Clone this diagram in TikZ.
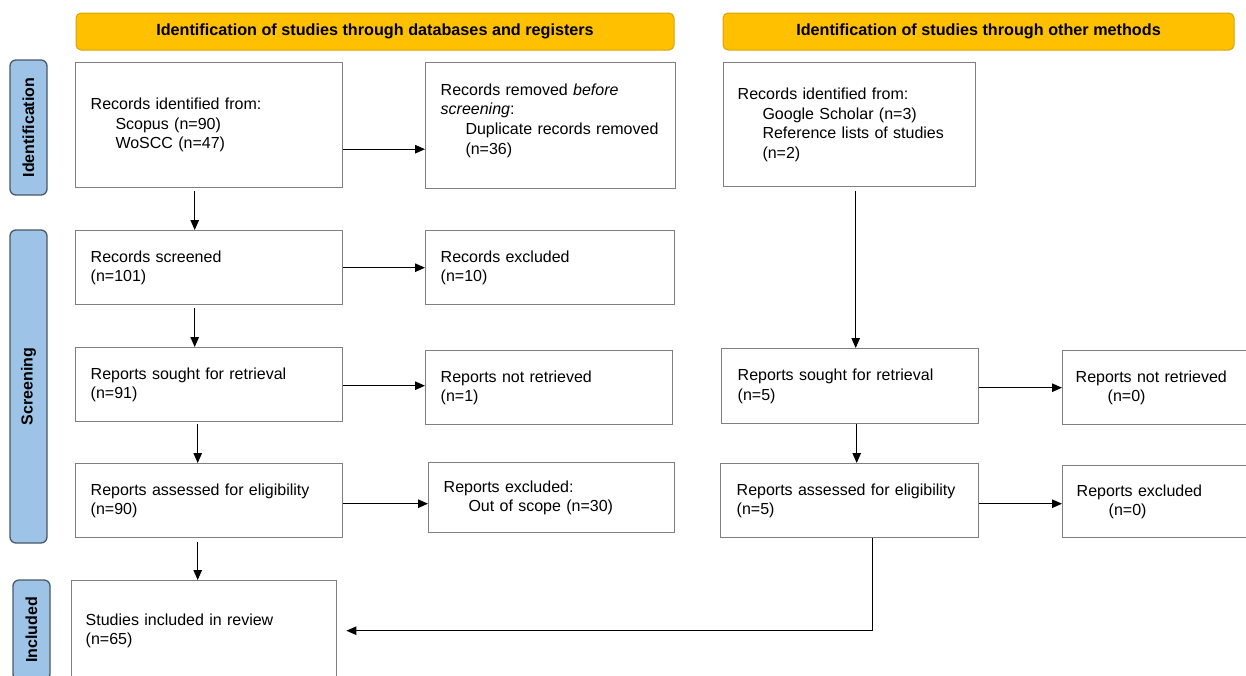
\documentclass[tikz,border=0pt]{standalone}
\usepackage{fontspec}
\setmainfont{Liberation Sans}
\usetikzlibrary{arrows.meta, positioning, calc}

\definecolor{hdrfill}{HTML}{FFC000}
\definecolor{hdrline}{HTML}{D9A400}
\definecolor{sidefill}{HTML}{9DC3E6}
\definecolor{sideline}{HTML}{4A5868}
\definecolor{boxline}{HTML}{7F7F7F}
\newcommand{\ind}{\hspace*{1.55em}}

\begin{document}
\begin{tikzpicture}[x=1pt, y=-1pt, >={Triangle[length=10pt,width=8.5pt]},
    font=\fontsize{16}{19.6}\selectfont]
    \tikzset{
        hdr/.style={draw=hdrline, fill=hdrfill, line width=1pt, rounded corners=5pt,
            minimum height=37pt, inner sep=0pt, font=\fontsize{16.2}{18}\selectfont\bfseries},
        side/.style={draw=sideline, fill=sidefill, line width=1.3pt, rounded corners=6pt,
            rotate=90, minimum height=37pt, inner sep=0pt,
            font=\fontsize{16}{18}\selectfont\bfseries},
        box/.style={draw=boxline, line width=1.4pt, align=left, anchor=north west,
            inner xsep=15pt, inner ysep=0pt},
        arr/.style={->, line width=1.1pt},
    }
    \clip (0,0) rectangle (1246,675);

    % headers
    \node[hdr, minimum width=598pt] (hdrdb) at (375,31.5)
        {Identification of studies through databases and registers};
    \node[hdr, minimum width=511pt] (hdrother) at (978.5,31.5)
        {Identification of studies through other methods};

    % phase labels
    \node[side, minimum width=135pt] (phid) at (28.5,127.5) {Identification};
    \node[side, minimum width=313pt] (phscr) at (28.5,386.5) {Screening};
    \node[side, minimum width=100pt] (phinc) at (31.5,630) {Included};

    % databases and registers
    \node[box, text width=237pt, minimum height=125pt] (dbid) at (75,62)
        {Records identified from:\\ \ind Scopus (n=90)\\ \ind WoSCC (n=47)};
    \node[box, text width=220pt, minimum height=126pt] (dbrem) at (425,62)
        {Records removed \textit{before}\\ \textit{screening}:\\
         \ind Duplicate records removed\\ \ind (n=36)\\[-6pt] \mbox{}};
    \node[box, text width=237pt, minimum height=74pt] (dbscr) at (75,230)
        {Records screened\\ (n=101)};
    \node[box, text width=219pt, minimum height=74pt] (dbexc) at (425,230)
        {Records excluded\\ (n=10)};
    \node[box, text width=237pt, minimum height=74pt] (dbsought) at (75,347)
        {Reports sought for retrieval\\ (n=91)};
    \node[box, text width=217pt, minimum height=74pt] (dbnotret) at (425,350)
        {Reports not retrieved\\ (n=1)};
    \node[box, text width=237pt, minimum height=74pt] (dbelig) at (75,463)
        {Reports assessed for eligibility\\ (n=90)};
    \node[box, text width=216pt, minimum height=70pt] (dbrepexc) at (428,462)
        {Reports excluded:\\ \ind Out of scope (n=30)};
    \node[box, text width=237pt, minimum height=100pt, inner xsep=14pt] (incl) at (71,580)
        {Studies included in review\\ (n=65)};

    % other methods
    \node[box, text width=224pt, minimum height=124pt, inner xsep=14pt] (othid) at (723,62)
        {Records identified from:\\ \ind Google Scholar (n=3)\\
         \ind Reference lists of studies\\ \ind (n=2)};
    \node[box, text width=225pt, minimum height=75pt, inner xsep=16pt] (othsought) at (721,348)
        {Reports sought for retrieval\\ (n=5)};
    \node[box, text width=185pt, minimum height=74pt, inner xsep=13pt] (othnotret) at (1062,350)
        {Reports not retrieved\\ \hspace*{2em}(n=0)};
    \node[box, text width=226pt, minimum height=74pt, inner xsep=16pt] (othelig) at (720,463)
        {Reports assessed for eligibility\\ (n=5)};
    \node[box, text width=185pt, minimum height=72pt, inner xsep=14pt] (othrepexc) at (1062,465)
        {Reports excluded\\ \hspace*{2em}(n=0)};

    % horizontal arrows
    \draw[arr] ([yshift=-24pt]dbid.east) -- ([yshift=-24pt]dbid.east -| dbrem.west);
    \draw[arr] (dbscr.east) -- (dbscr.east -| dbexc.west);
    \draw[arr] ([yshift=-1pt]dbsought.east) -- ([yshift=-1pt]dbsought.east -| dbnotret.west);
    \draw[arr] ([yshift=-3pt]dbelig.east) -- ([yshift=-3pt]dbelig.east -| dbrepexc.west);
    \draw[arr] ([yshift=-1.5pt]othsought.east) -- ([yshift=-1.5pt]othsought.east -| othnotret.west);
    \draw[arr] ([yshift=-3pt]othelig.east) -- ([yshift=-3pt]othelig.east -| othrepexc.west);

    % vertical arrows
    \draw[arr, shorten <=3pt] ([xshift=-14.5pt]dbid.south) -- ([xshift=-14.5pt]dbid.south |- dbscr.north);
    \draw[arr, shorten <=3pt] ([xshift=-14.5pt]dbscr.south) -- ([xshift=-14.5pt]dbscr.south |- dbsought.north);
    \draw[arr, shorten <=2pt] ([xshift=-11.5pt]dbsought.south) -- ([xshift=-11.5pt]dbsought.south |- dbelig.north);
    \draw[arr, shorten <=4pt] ([xshift=-11.5pt]dbelig.south) -- ([xshift=-11.5pt]dbelig.south |- incl.north);
    \draw[arr, shorten <=4pt] ([xshift=6pt]othid.south) -- ([xshift=6pt]othid.south |- othsought.north);
    \draw[arr] ([xshift=6.5pt]othsought.south) -- ([xshift=6.5pt]othsought.south |- othelig.north);
    \draw[arr, shorten >=9pt] ([xshift=23pt]othelig.south) |- (incl.east);
\end{tikzpicture}
\end{document}
